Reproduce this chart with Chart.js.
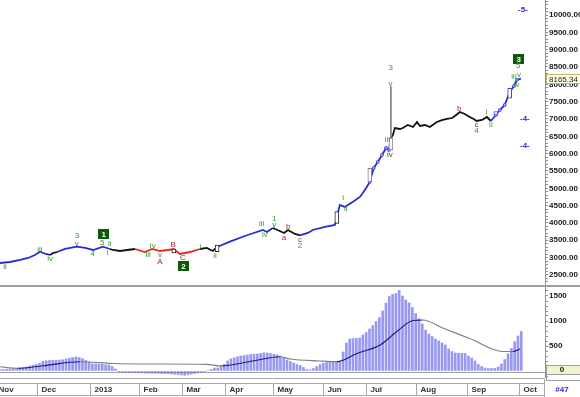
<!DOCTYPE html>
<html><head><meta charset="utf-8">
<script src="https://cdn.jsdelivr.net/npm/chart.js@4.4.1/dist/chart.umd.min.js"></script>
<style>
html,body{margin:0;padding:0;background:#fff;}
#wrap{position:relative;width:580px;height:397px;overflow:hidden;background:#fff;}
#c1{position:absolute;left:0;top:0;}
#c2{position:absolute;left:0;top:287px;}
</style></head>
<body><div id="wrap"><canvas id="c1" width="580" height="287"></canvas><canvas id="c2" width="580" height="110"></canvas></div>
<script>
// ---- categories / ticks ----
const monthLabels = ['Nov','Dec','2013','Feb','Mar','Apr','May','Jun','Jul','Aug','Sep','Oct'];
const monthStart  = [-1.8, 11.2, 27.3, 42.1, 55.2, 68.2, 82.7, 97.9, 110.9, 126.1, 141.5, 157.3];
const priceMajorTicks = [2500,3000,3500,4000,4500,5000,5500,6000,6500,7000,7500,8000,8500,9000,9500,10000];
const oscMajorTicks = [500,1000,1500];
const lastPrice = 8165.34;
const panelTag = '#47';

// ---- price series (session index, close) ----
const priceIdx = [0,3.0,6.1,8.5,10.6,12.1,13.9,15.2,16.1,17.3,19.7,23.3,25.8,28.2,31.2,33.3,34.2,36.4,38.5,40.9,
 43.9,46.1,48.5,50.9,52.7,54.5,57.6,60.6,62.7,64.5,65.8,69.7,74.2,79.7,80.9,82.7,84.8,86.1,87.3,89.4,
 90.9,93.3,94.8,98.5,101.5,103.0,104.5,107.0,109.1,110.6,112.1,113.3,114.5,115.8,117.0,117.9,118.5,119.1,119.7,121.2,
 122.1,123.6,125.2,126.4,127.3,128.8,130.3,132.4,134.2,135.5,137.0,137.9,139.4,140.9,142.4,143.6,144.5,146.1,147.6,148.8,
 150.3,151.5,153.0,154.5,155.8,156.7,157.9];
const priceClose = [2845,2874,2932,2990,3076,3171,3105,3076,3134,3162,3249,3316,3278,3220,3316,3249,3220,3191,3220,3249,
 3162,3249,3191,3220,3249,3105,3162,3249,3278,3191,3307,3460,3624,3797,3740,3855,3768,3711,3797,3682,
 3639,3711,3797,3884,3941,4519,4462,4614,4750,4951,5182,5586,5759,5961,6163,6105,6451,6538,6740,6711,
 6740,6826,6769,6913,6798,6826,6769,6913,6971,7000,7028,7086,7202,7144,7057,7000,6942,6971,7057,6942,
 7115,7259,7404,7779,7952,8125,8165.34];
// trend colouring runs: b = impulse (blue), k = neutral (black), r = correction (red)
const trendRuns = [['b',7],['k',2],['b',6],['k',4],['r',8],['k',3],['b',5],['k',5],['b',16],['k',23],['b',8]];

// ---- open candles ----
const candleIdx  = [52.7, 65.8, 102.1, 112.1, 118.5, 150.3, 154.5];
const candleLow  = [3134, 3172, 3990, 5191, 6105, 7115, 7597];
const candleHigh = [3249, 3364, 4326, 5577, 6451, 7211, 7885];
const candleKind = ['k','k','k','g','g','b','b'];
const wickIdx = [118.5], wickLow = [6451], wickHigh = [7932];

// ---- wave labels [text, index, price, kind] ----
const waveLabels = [
 ['ii',1.5,2739,'g'],['iii',12.1,3220,'g'],['iv',15.2,2952,'g'],['3',23.3,3624,'g'],['v',23.3,3413,'g'],
 ['4',28.1,3124,'g'],['5',31.0,3432,'g'],['ii',33.3,3413,'g'],['i',32.6,3143,'g'],['1',31.3,3682,'B'],
 ['iii',44.9,3076,'g'],['iv',46.3,3345,'g'],['v',48.5,3076,'g'],['A',48.5,2883,'r'],['B',52.5,3365,'r'],
 ['C',55.4,2981,'r'],['2',55.5,2759,'B'],['i',60.8,3316,'g'],['ii',65.2,3047,'g'],['iii',79.3,3990,'g'],
 ['iv',80.3,3653,'g'],['1',83.1,4106,'g'],['v',83.1,3961,'g'],['b',87.4,3893,'r'],['a',86.1,3586,'r'],
 ['c',90.9,3509,'r'],['2',90.9,3336,'g'],['i',104.0,4712,'g'],['ii',104.8,4423,'g'],['3',118.4,8491,'g'],
 ['v',118.4,8020,'g'],['iii',117.4,6394,'g'],['iv',118.2,5961,'o'],['b',139.2,7308,'r'],['c',144.4,6826,'r'],
 ['4',144.4,6662,'g'],['i',147.5,7211,'g'],['ii',148.8,6826,'g'],['3',157.1,8722,'B'],['5',157.1,8529,'g'],
 ['iii',155.8,8220,'g'],['v',157.3,8289,'g'],['iv',156.6,7981,'g'],['-4-',159.1,7000,'u'],['-4-',159.1,6221,'u'],
 ['-5-',158.5,10144,'u']
];

// ---- oscillator histogram & signal ----
const histValues = [30,30,35,35,40,45,60,70,80,100,
 115,130,155,195,205,210,215,215,220,225,
 240,255,270,280,270,250,215,180,145,140,
 135,135,125,120,90,40,-15,-20,-25,-25,
 -30,-30,-35,-35,-40,-40,-45,-45,-45,-50,
 -50,-55,-60,-65,-70,-80,-85,-75,-60,-50,
 -35,-25,-15,10,30,60,60,80,130,200,
 240,265,285,300,310,320,330,335,340,350,
 365,360,350,335,320,300,260,220,190,160,
 130,110,70,30,20,50,90,130,155,170,
 185,185,190,195,380,560,640,650,650,660,
 720,770,840,910,990,1070,1200,1360,1490,1530,
 1550,1610,1500,1420,1360,1270,1150,1050,940,820,
 740,690,640,600,560,520,440,390,360,355,
 355,350,300,260,200,130,90,60,50,50,
 55,80,140,230,340,450,590,700,790];
const signalIdx    = [0,5.2,13.0,24.2,34.2,45.5,62.7,66.7,76.7,84.8,87.9,97.0,102.1,108.2,115.2,120.3,125.2,128.2,134.2,142.4,152.4,155.5,157.6];
const signalValues = [85,55,105,185,150,140,133,100,200,285,240,200,187,350,520,790,1010,1020,860,650,390,390,440];

// ---- helpers ----
const X_MAX = 165.2;
const FONT = '"Liberation Sans", Arial, sans-serif';
const trendCodes = [];
trendRuns.forEach(([c,n]) => { for (let i=0;i<n;i++) trendCodes.push(c); });
const trendColor = {b:'#2a2ad2', k:'#111111', r:'#e02828'};
const candleColor = {k:'#222222', g:'#808080', b:'#4040e0'};
const labelColor = {g:'#2f9a2f', r:'#a02a2a', u:'#2a2ae0', o:'#5a4a10'};
const fitRight = s => { s.width = 35; s.paddingTop = 0; s.paddingBottom = 0; };

const waveLabelPlugin = {
  id:'waves',
  afterDatasetsDraw(chart){
    const {ctx, scales:{x,y}} = chart;
    ctx.save();
    ctx.textAlign='center'; ctx.textBaseline='middle';
    waveLabels.forEach(([t,xi,p,k])=>{
      const px = x.getPixelForValue(xi), py = y.getPixelForValue(p);
      if (k==='B'){
        ctx.fillStyle='#0b5a0b'; ctx.fillRect(Math.round(px)-5, Math.round(py)-5, 11, 10);
        ctx.fillStyle='#ffffff'; ctx.font='bold 8px '+FONT; ctx.fillText(t, px+0.5, py+0.5);
      } else {
        ctx.fillStyle=labelColor[k]; ctx.font=(k==='u'?'bold ':'')+'8px '+FONT; ctx.fillText(t, px, py);
      }
    });
    ctx.restore();
  },
  afterDraw(chart){
    const {ctx, scales:{y}} = chart;
    ctx.save();
    const py = Math.round(y.getPixelForValue(lastPrice));
    ctx.fillStyle='#ffffe6'; ctx.fillRect(546, py-5, 34, 10);
    ctx.strokeStyle='#c0b870'; ctx.lineWidth=1; ctx.strokeRect(546.5, py-4.5, 34, 9);
    ctx.fillStyle='#202020'; ctx.font='8px '+FONT; ctx.textAlign='left'; ctx.textBaseline='middle';
    ctx.fillText(lastPrice.toFixed(2), 549, py+0.5);
    ctx.fillStyle='#a0a0a0'; ctx.fillRect(0, 285, 580, 2);
    ctx.restore();
  }
};

const pricePoints = priceIdx.map((x,i)=>({x, y:priceClose[i]}));

new Chart(document.getElementById('c1'), {
  type:'line',
  data:{ datasets:[
    { type:'line', data:pricePoints, order:3, borderWidth:1.8, tension:0,
      borderColor:'#2a2ad2',
      segment:{ borderColor: c => trendColor[trendCodes[c.p0DataIndex]] },
      pointStyle:'rect',
      pointRadius: c => { const v = priceIdx[c.dataIndex]; return ((v>=112 && v<118) || (v>=150 && v<157)) ? 1.6 : 0; },
      pointBackgroundColor:'#ffffff', pointBorderColor:'#3a3ae0', pointBorderWidth:1 },
    { type:'bar', data: wickIdx.map((x,i)=>({x, y:[wickLow[i], wickHigh[i]]})), order:2,
      barThickness:1, backgroundColor:'#808080', borderWidth:0, grouped:false },
    { type:'bar', data: candleIdx.map((x,i)=>({x, y:[candleLow[i], candleHigh[i]]})), order:1,
      barThickness:4, backgroundColor:'#ffffff', borderColor: candleKind.map(k=>candleColor[k]),
      borderWidth:1, borderSkipped:false, grouped:false }
  ]},
  options:{
    responsive:false, animation:false, events:[],
    layout:{ padding:{left:0,right:0,top:0,bottom:2} },
    plugins:{ legend:{display:false}, tooltip:{enabled:false} },
    scales:{
      x:{ type:'linear', min:0, max:X_MAX, offset:false, display:false },
      y:{ position:'right', min:2210, max:10433,
        afterBuildTicks: s => { const t=[]; for(let v=2300; v<=10400; v+=100) t.push({value:v}); s.ticks=t; },
        afterFit: fitRight,
        ticks:{ autoSkip:false, padding:1, color:'#1a1a1a', font:{family:FONT, size:8, weight:'bold'},
          callback: v => priceMajorTicks.includes(v) ? v.toFixed(2) : '' },
        grid:{ drawOnChartArea:false, tickLength:3, tickColor:'#909090' },
        border:{ display:true, color:'#909090' }
      }
    }
  },
  plugins:[waveLabelPlugin]
});

const bottomPlugin = {
  id:'bottomRow',
  beforeDatasetsDraw(chart){
    const {ctx, scales:{y}} = chart;
    ctx.save();
    const zy = Math.round(y.getPixelForValue(0)) + 1.5;
    ctx.strokeStyle='#a0a0a0'; ctx.lineWidth=1;
    ctx.beginPath(); ctx.moveTo(0, zy); ctx.lineTo(545, zy); ctx.stroke();
    ctx.restore();
  },
  afterDraw(chart){
    const {ctx, scales:{x,y}} = chart;
    ctx.save();
    const zy = Math.round(y.getPixelForValue(0));
    ctx.fillStyle='#f2f2cc'; ctx.fillRect(546, zy-6, 34, 9);
    ctx.strokeStyle='#a0a0a0'; ctx.lineWidth=1;
    ctx.strokeRect(546.5, zy-5.5, 34, 9);
    ctx.strokeRect(546.5, zy+3.5, 34, 6);
    ctx.fillStyle='#202020'; ctx.font='bold 8px '+FONT; ctx.textAlign='center'; ctx.textBaseline='middle';
    ctx.fillText('0', 562, zy-1);
    ctx.strokeStyle='#a8a8a8';
    ctx.beginPath(); ctx.moveTo(0, 91.5); ctx.lineTo(545, 91.5); ctx.stroke();
    const top=96.5, bot=108.5;
    ctx.beginPath(); ctx.moveTo(0, top); ctx.lineTo(545, top); ctx.moveTo(0, bot); ctx.lineTo(545, bot); ctx.stroke();
    ctx.font='bold 8px '+FONT; ctx.textAlign='left'; ctx.fillStyle='#303030';
    monthStart.forEach((m,i)=>{
      const px = Math.round(x.getPixelForValue(m)) + 0.5;
      ctx.beginPath(); ctx.moveTo(px, top); ctx.lineTo(px, bot); ctx.stroke();
      ctx.fillText(monthLabels[i], px+4, (top+bot)/2+0.5);
    });
    ctx.beginPath(); ctx.moveTo(544.5, top-4); ctx.lineTo(544.5, 110); ctx.stroke();
    ctx.fillStyle='#2a2ad8'; ctx.textAlign='center';
    ctx.fillText(panelTag, 562, (top+bot)/2+0.5);
    ctx.restore();
  }
};

new Chart(document.getElementById('c2'), {
  type:'bar',
  data:{ datasets:[
    { type:'line', data: signalIdx.map((x,i)=>({x, y:signalValues[i]})), order:0,
      borderWidth:1.2, pointRadius:0, cubicInterpolationMode:'monotone',
      borderColor:'#808080',
      segment:{ borderColor: c => {
        const xm=(c.p0.parsed.x+c.p1.parsed.x)/2, ym=(c.p0.parsed.y+c.p1.parsed.y)/2;
        const h = histValues[Math.max(0, Math.min(histValues.length-1, Math.round(xm)))];
        return ym < h ? '#1e1e78' : '#808080'; } } },
    { type:'bar', data: histValues.map((v,i)=>({x:i, y:v})), order:1,
      barThickness:2, backgroundColor:'rgba(112,112,236,0.72)', borderWidth:0, grouped:false }
  ]},
  options:{
    responsive:false, animation:false, events:[],
    layout:{ padding:{left:0,right:0,top:0,bottom:20} },
    plugins:{ legend:{display:false}, tooltip:{enabled:false} },
    scales:{
      x:{ type:'linear', min:0, max:X_MAX, offset:false, display:false },
      y:{ position:'right', min:-120, max:1680,
        afterBuildTicks: s => { const t=[]; for(let v=-100; v<=1600; v+=100) t.push({value:v}); s.ticks=t; },
        afterFit: fitRight,
        ticks:{ autoSkip:false, padding:1, color:'#1a1a1a', font:{family:FONT, size:8, weight:'bold'},
          callback: v => oscMajorTicks.includes(v) ? String(v) : '' },
        grid:{ drawOnChartArea:false, tickLength:3, tickColor:'#909090' },
        border:{ display:true, color:'#909090' }
      }
    }
  },
  plugins:[bottomPlugin]
});
</script>
</body></html>
